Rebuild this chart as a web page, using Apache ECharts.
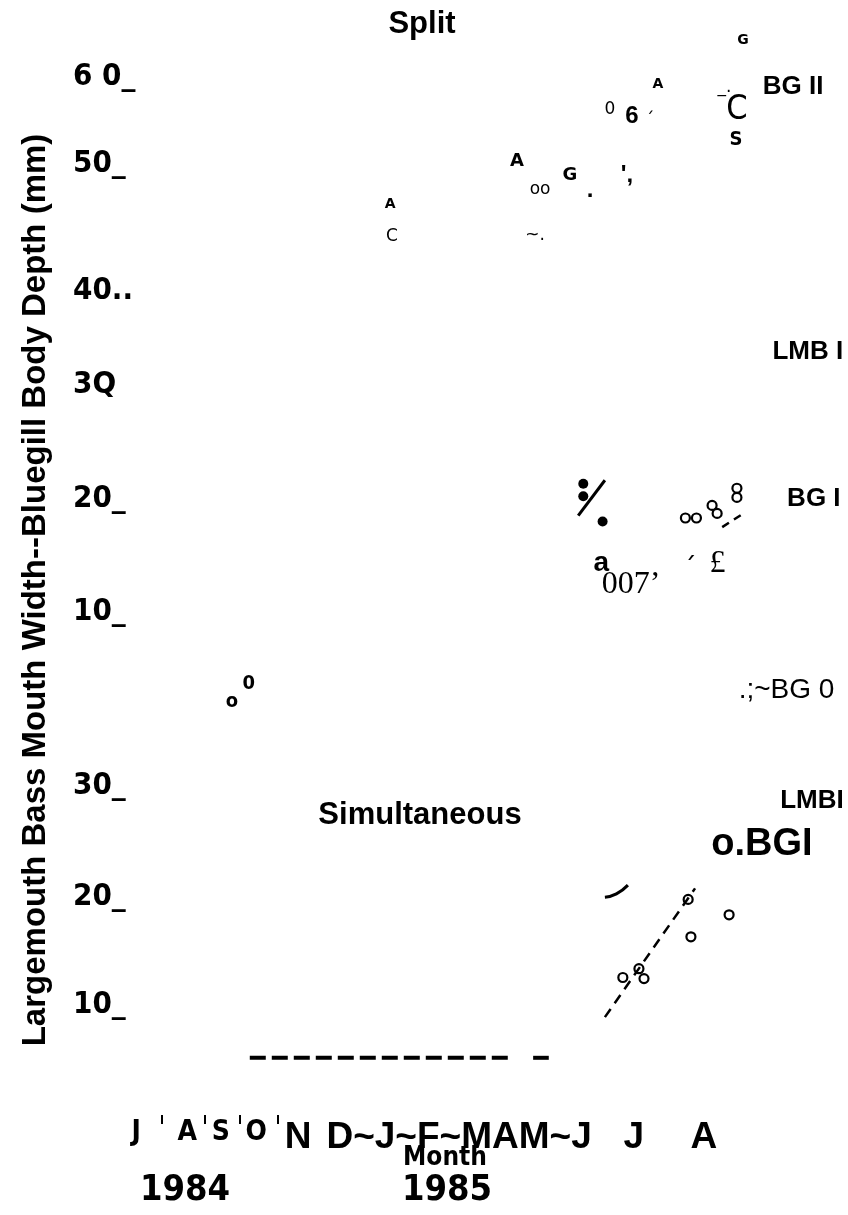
<!DOCTYPE html>
<html><head><meta charset="utf-8">
<script src="https://cdn.jsdelivr.net/npm/echarts@6/dist/echarts.min.js"></script>
<style>html,body{margin:0;padding:0;background:#fff}#c{width:848px;height:1215px}</style>
</head><body><div id="c"></div>
<script>
// ---- data (x in months from Jul 1984, y in mm) ----
const topTickLabels = ['6 0_', '50_', '40..', '3Q', '20_', '10_'];
const topTickValues = [56.8, 49.2, 38.1, 29.8, 19.9, 10.0];
const bottomTickLabels = ['30_', '20_', '10_'];
const bottomTickValues = [29.9, 19.8, 10.0];

const monthLabels = ['J', 'A', 'S', 'O', 'N', 'D~J~F~MAM~J', 'J', 'A'];
const monthValues = [-0.04, 1.07, 1.80, 2.57, 3.48, 6.98, 10.78, 12.3];
const monthSmall = [true, true, true, true, false, false, false, false];
const monthTickValues = [0.52, 1.46, 2.22, 3.04];

// text fragments of the Split panel: [text, month, mm]
const splitSmallBold = [['G', 13.15, 60.0], ['A', 11.30, 56.1], ['A', 5.48, 45.6]];
const splitMidBold = [['A', 8.24, 49.4], ['G', 9.39, 48.2]];
const splitBigBold = [['6', 10.74, 53.3], ["',", 10.63, 48.2], ['.', 9.83, 46.9]];
const splitRegular = [['_.', 12.75, 55.9], ['0', 10.26, 53.9], ['´', 11.13, 53.0], ['oo', 8.74, 46.9], ['C', 5.52, 42.8], ['~.', 8.63, 42.9]];
const splitAcute = [['´', 12.0, 13.6]];
const splitNarrowBig = [['C', 13.02, 53.9]];
const splitNarrowBold = [['S', 13.0, 51.3], ['0', 2.41, 3.7], ['o', 2.04, 2.1]];
const splitKeys = [['BG II', 13.57, 55.9], ['LMB I', 13.78, 32.7], ['BG I', 14.1, 19.9]];
const splitKeyRight = [['.;~BG 0', 15.15, 3.15]];
const splitA = [['a', 10.07, 14.2]];
const splitSerif = [['£', 12.6, 14.2], ['007’', 10.72, 12.4]];

// marks of the Split panel
const splitFilled = [[9.68, 21.2], [9.68, 20.1], [10.1, 17.9]];
const splitSlash = [[9.57, 18.4], [10.15, 21.5]];
const splitOpen = [[11.90, 18.2], [12.14, 18.2], [12.48, 19.3], [12.59, 18.6], [13.02, 20.8], [13.02, 20.0]];
const splitDash = [[12.70, 17.4], [13.2, 18.7]];

// Simultaneous panel
const simKeys = [['LMBI', 13.95, 28.6]];
const simKeysBig = [['o.BGI', 12.45, 24.6]];
const simCurve = [[10.15, 19.8], [10.4, 20.1], [10.65, 20.9]];
const simDash = [[10.15, 8.9], [12.11, 20.6]];
const simOpen = [[10.54, 12.5], [10.89, 13.3], [11.0, 12.4], [11.96, 19.6], [12.02, 16.2], [12.85, 18.2]];
const simBase = [[2.43, 5.2], [8.13, 5.2]];
const simBaseEnd = [[8.59, 5.2], [8.93, 5.2]];

const SANS = 'Liberation Sans, Arial, sans-serif';
const NARROW = 'Liberation Sans Narrow, DejaVu Sans Condensed, sans-serif';
const DJV = 'DejaVu Sans, sans-serif';
const SERIF = 'Liberation Serif, DejaVu Serif, serif';

function pick(vals, labs, v) {
  let best = -1, d = 1e9;
  vals.forEach((x, i) => { if (Math.abs(x - v) < d) { d = Math.abs(x - v); best = i; } });
  return d < 0.01 ? labs[best] : '';
}

function textSeries(arr, grid, font, size, weight, pos) {
  return {
    type: 'scatter', xAxisIndex: grid, yAxisIndex: grid, clip: false, silent: true,
    symbolSize: 1, itemStyle: { color: 'transparent', opacity: 1 },
    data: arr.map(a => ({ name: a[0], value: [a[1], a[2]] })),
    label: { show: true, formatter: '{b}', position: pos || 'inside', distance: 0, opacity: 1,
      color: '#000', fontFamily: font, fontSize: size, fontWeight: weight }
  };
}
function lineSeries(arr, grid, width, type, smooth) {
  return { type: 'line', xAxisIndex: grid, yAxisIndex: grid, clip: false, silent: true,
    showSymbol: false, smooth: !!smooth, data: arr,
    lineStyle: { color: '#000', width: width, type: type, opacity: 1 } };
}
function dotSeries(arr, grid, filled, size) {
  return { type: 'scatter', xAxisIndex: grid, yAxisIndex: grid, clip: false, silent: true,
    symbol: 'circle', symbolSize: size, data: arr,
    itemStyle: filled ? { color: '#000', opacity: 1 } : { color: '#fff', borderColor: '#000', borderWidth: 2.2, opacity: 1 } };
}

const hiddenAxis = { axisLine: { show: false }, axisTick: { show: false }, splitLine: { show: false } };

const option = {
  animation: false,
  backgroundColor: '#fff',
  grid: [
    { left: 92, right: 20, top: 0, height: 726 },
    { left: 92, right: 20, top: 741, height: 374 }
  ],
  xAxis: [
    Object.assign({ gridIndex: 0, type: 'value', min: -1, max: 15, axisLabel: { show: false } }, hiddenAxis),
    { gridIndex: 1, type: 'value', min: -1, max: 15,
      axisLine: { show: false }, splitLine: { show: false },
      axisTick: { show: true, customValues: monthTickValues, length: 9, inside: false,
        lineStyle: { color: '#000', width: 2 } },
      axisLabel: { customValues: monthValues, margin: 4, color: '#000',
        formatter: v => { const i = monthValues.findIndex(x => Math.abs(x - v) < 0.01);
          if (i < 0) return ''; return (monthSmall[i] ? '{s|' : '{b|') + monthLabels[i] + '}'; },
        rich: { s: { fontFamily: NARROW, fontWeight: 'bold', fontSize: 28, color: '#000' },
                b: { fontFamily: SANS, fontWeight: 'bold', fontSize: 37, color: '#000' } } } }
  ],
  yAxis: [
    Object.assign({ gridIndex: 0, type: 'value', min: 0, max: 63.52,
      axisLabel: { customValues: topTickValues, formatter: v => pick(topTickValues, topTickLabels, v),
        align: 'left', margin: 19, color: '#000', fontFamily: NARROW, fontWeight: 'bold', fontSize: 31 } }, hiddenAxis),
    Object.assign({ gridIndex: 1, type: 'value', min: 0, max: 34,
      axisLabel: { customValues: bottomTickValues, formatter: v => pick(bottomTickValues, bottomTickLabels, v),
        align: 'left', margin: 19, color: '#000', fontFamily: NARROW, fontWeight: 'bold', fontSize: 31 } }, hiddenAxis)
  ],
  graphic: [
    { type: 'text', x: 422, y: 24, style: { text: 'Split', font: 'bold 31px ' + SANS, fill: '#000', textAlign: 'center', textVerticalAlign: 'middle' } },
    { type: 'text', x: 420, y: 815, style: { text: 'Simultaneous', font: 'bold 31px ' + SANS, fill: '#000', textAlign: 'center', textVerticalAlign: 'middle' } },
    { type: 'text', x: 36, y: 590, rotation: Math.PI / 2, style: { text: 'Largemouth Bass Mouth Width--Bluegill Body Depth (mm)', font: 'bold 33px ' + SANS, fill: '#000', textAlign: 'center', textVerticalAlign: 'middle' } },
    { type: 'text', x: 445, y: 1158, style: { text: 'Month', font: 'bold 26px ' + NARROW, fill: '#000', textAlign: 'center', textVerticalAlign: 'middle' } },
    { type: 'text', x: 185, y: 1191, style: { text: '1984', font: 'bold 36px ' + NARROW, fill: '#000', textAlign: 'center', textVerticalAlign: 'middle' } },
    { type: 'text', x: 447, y: 1191, style: { text: '1985', font: 'bold 36px ' + NARROW, fill: '#000', textAlign: 'center', textVerticalAlign: 'middle' } }
  ],
  series: [
    textSeries(splitSmallBold, 0, DJV, 14, 'bold'),
    textSeries(splitMidBold, 0, DJV, 18, 'bold'),
    textSeries(splitBigBold, 0, SANS, 24, 'bold'),
    textSeries(splitRegular, 0, DJV, 17, 'normal'),
    textSeries(splitAcute, 0, DJV, 26, 'normal'),
    textSeries(splitNarrowBig, 0, NARROW, 34, 'normal'),
    textSeries(splitNarrowBold, 0, NARROW, 20, 'bold'),
    textSeries(splitKeys, 0, SANS, 26, 'bold', 'right'),
    textSeries(splitKeyRight, 0, SANS, 28, 'normal', 'left'),
    textSeries(splitA, 0, SANS, 28, 'bold'),
    textSeries(splitSerif, 0, SERIF, 32, 'normal'),
    dotSeries(splitFilled, 0, true, 10),
    lineSeries(splitSlash, 0, 3, 'solid'),
    dotSeries(splitOpen, 0, false, 9),
    lineSeries(splitDash, 0, 2.5, [8, 6]),
    textSeries(simKeys, 1, SANS, 26, 'bold', 'right'),
    textSeries(simKeysBig, 1, SANS, 38, 'bold', 'right'),
    lineSeries(simCurve, 1, 3, 'solid', true),
    lineSeries(simDash, 1, 2.5, [10, 7]),
    dotSeries(simOpen, 1, false, 9),
    lineSeries(simBase, 1, 4, [16, 6]),
    lineSeries(simBaseEnd, 1, 4, 'solid')
  ]
};
echarts.init(document.getElementById('c')).setOption(option);
</script></body></html>
